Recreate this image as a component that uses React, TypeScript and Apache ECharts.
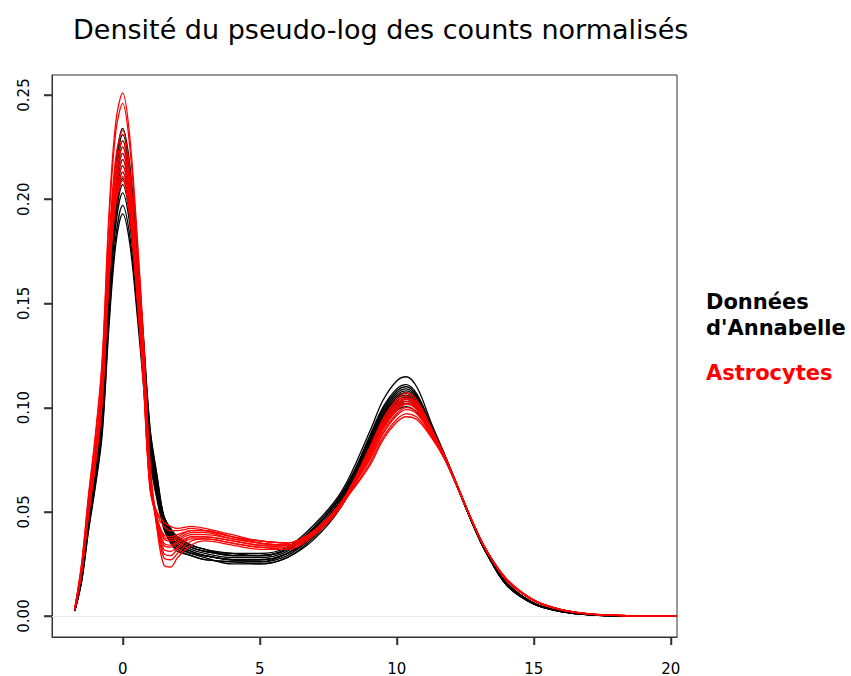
import React, { useEffect, useRef } from "react";
import * as echarts from "echarts";

// x grid (pseudo-log of normalised counts) shared by every density curve
const xGrid = [-1.75, -1.5, -1.25, -1, -0.75, -0.5, -0.25, 0, 0.25, 0.5, 0.75, 1, 1.25, 1.5, 1.75, 2, 2.5, 3, 4, 5, 6, 7, 8, 9, 9.5, 10, 10.35, 10.75, 11.25, 11.75, 12.25, 12.75, 13.25, 14, 15, 16, 17, 18, 20.2];

// Données d'Annabelle (black curves)
const black1 = [0.0028, 0.0199, 0.0491, 0.0749, 0.1053, 0.1685, 0.2165, 0.2340, 0.2176, 0.1802, 0.1357, 0.0901, 0.0679, 0.048, 0.041, 0.037, 0.033, 0.031, 0.029, 0.029, 0.032, 0.043, 0.059, 0.0848, 0.0985, 0.1070, 0.1090, 0.1046, 0.0910, 0.0769, 0.0611, 0.0452, 0.0310, 0.0155, 0.0060, 0.0022, 0.0007, 0.0002, 0];
const black2 = [0.0028, 0.0196, 0.0485, 0.0739, 0.1040, 0.1663, 0.2137, 0.2310, 0.2148, 0.1779, 0.1340, 0.0889, 0.0670, 0.047, 0.040, 0.036, 0.033, 0.031, 0.030, 0.030, 0.033, 0.044, 0.060, 0.0880, 0.1035, 0.1128, 0.1148, 0.1095, 0.0930, 0.0775, 0.0615, 0.0455, 0.0312, 0.0160, 0.0062, 0.0023, 0.0007, 0.0002, 0];
const black3 = [0.0027, 0.0194, 0.0479, 0.0730, 0.1026, 0.1642, 0.2109, 0.2280, 0.2120, 0.1756, 0.1322, 0.0878, 0.0661, 0.047, 0.040, 0.036, 0.032, 0.030, 0.028, 0.028, 0.031, 0.042, 0.058, 0.0833, 0.0967, 0.1050, 0.1070, 0.1030, 0.0902, 0.0765, 0.0610, 0.0450, 0.0310, 0.0150, 0.0058, 0.0021, 0.0006, 0.0002, 0];
const black4 = [0.0027, 0.0191, 0.0473, 0.0720, 0.1013, 0.1620, 0.2081, 0.2250, 0.2093, 0.1733, 0.1305, 0.0866, 0.0653, 0.044, 0.038, 0.035, 0.031, 0.029, 0.027, 0.026, 0.030, 0.040, 0.056, 0.0855, 0.0994, 0.1080, 0.1100, 0.1054, 0.0914, 0.0771, 0.0612, 0.0452, 0.0311, 0.0155, 0.0060, 0.0022, 0.0007, 0.0002, 0];
const black5 = [0.0027, 0.0189, 0.0466, 0.0710, 0.0999, 0.1598, 0.2054, 0.2220, 0.2065, 0.1709, 0.1288, 0.0855, 0.0644, 0.045, 0.039, 0.034, 0.030, 0.029, 0.027, 0.027, 0.030, 0.039, 0.055, 0.0818, 0.0949, 0.1030, 0.1050, 0.1013, 0.0894, 0.0762, 0.0609, 0.0449, 0.0309, 0.0160, 0.0062, 0.0023, 0.0007, 0.0002, 0];
const black6 = [0.0026, 0.0186, 0.0460, 0.0701, 0.0986, 0.1577, 0.2026, 0.2190, 0.2037, 0.1686, 0.1270, 0.0843, 0.0635, 0.048, 0.042, 0.038, 0.034, 0.032, 0.029, 0.029, 0.032, 0.041, 0.057, 0.0860, 0.1002, 0.1090, 0.1110, 0.1062, 0.0918, 0.0773, 0.0613, 0.0453, 0.0311, 0.0155, 0.0060, 0.0022, 0.0007, 0.0002, 0];
const black7 = [0.0026, 0.0184, 0.0454, 0.0691, 0.0972, 0.1555, 0.1998, 0.2160, 0.2009, 0.1663, 0.1253, 0.0832, 0.0626, 0.042, 0.036, 0.032, 0.029, 0.027, 0.026, 0.025, 0.028, 0.037, 0.053, 0.0810, 0.0940, 0.1020, 0.1040, 0.1005, 0.0890, 0.0760, 0.0608, 0.0449, 0.0309, 0.0150, 0.0058, 0.0021, 0.0006, 0.0002, 0];
const black8 = [0.0026, 0.0181, 0.0447, 0.0682, 0.0959, 0.1534, 0.1970, 0.2130, 0.1981, 0.1640, 0.1235, 0.0820, 0.0618, 0.047, 0.041, 0.037, 0.033, 0.031, 0.029, 0.029, 0.032, 0.042, 0.058, 0.0840, 0.0976, 0.1060, 0.1080, 0.1038, 0.0906, 0.0767, 0.0611, 0.0451, 0.0310, 0.0155, 0.0060, 0.0022, 0.0007, 0.0002, 0];
const black9 = [0.0025, 0.0179, 0.0441, 0.0672, 0.0945, 0.1512, 0.1943, 0.2100, 0.1953, 0.1617, 0.1218, 0.0809, 0.0609, 0.048, 0.041, 0.037, 0.034, 0.032, 0.030, 0.029, 0.032, 0.042, 0.058, 0.0825, 0.0958, 0.1040, 0.1060, 0.1022, 0.0898, 0.0764, 0.0610, 0.0450, 0.0309, 0.0160, 0.0062, 0.0023, 0.0007, 0.0002, 0];
const black10 = [0.0025, 0.0176, 0.0435, 0.0662, 0.0932, 0.1490, 0.1915, 0.2070, 0.1925, 0.1594, 0.1201, 0.0797, 0.0600, 0.043, 0.037, 0.033, 0.030, 0.028, 0.025, 0.025, 0.028, 0.038, 0.054, 0.0802, 0.0931, 0.1010, 0.1030, 0.0997, 0.0886, 0.0759, 0.0608, 0.0448, 0.0308, 0.0150, 0.0058, 0.0021, 0.0006, 0.0002, 0];
const black11 = [0.0024, 0.0173, 0.0426, 0.0650, 0.0914, 0.1462, 0.1878, 0.2030, 0.1888, 0.1563, 0.1177, 0.0782, 0.0589, 0.044, 0.037, 0.033, 0.030, 0.029, 0.027, 0.027, 0.030, 0.039, 0.055, 0.0783, 0.0909, 0.0986, 0.1005, 0.0975, 0.0876, 0.0755, 0.0606, 0.0447, 0.0308, 0.0155, 0.0060, 0.0022, 0.0007, 0.0002, 0];
const black12 = [0.0024, 0.0167, 0.0414, 0.0630, 0.0887, 0.1418, 0.1822, 0.1970, 0.1832, 0.1517, 0.1143, 0.0758, 0.0571, 0.045, 0.038, 0.034, 0.031, 0.029, 0.027, 0.027, 0.030, 0.040, 0.056, 0.0795, 0.0922, 0.1000, 0.1020, 0.0988, 0.0882, 0.0757, 0.0607, 0.0448, 0.0308, 0.0160, 0.0062, 0.0023, 0.0007, 0.0002, 0];
const black13 = [0.0023, 0.0164, 0.0405, 0.0618, 0.0869, 0.1390, 0.1785, 0.1930, 0.1795, 0.1486, 0.1119, 0.0743, 0.0560, 0.042, 0.035, 0.031, 0.029, 0.027, 0.026, 0.026, 0.029, 0.039, 0.055, 0.0833, 0.0967, 0.1050, 0.1070, 0.1030, 0.0902, 0.0765, 0.0610, 0.0450, 0.0310, 0.0150, 0.0058, 0.0021, 0.0006, 0.0002, 0];

// Astrocytes (red curves)
const red1 = [0.0035, 0.0251, 0.0577, 0.0866, 0.1230, 0.1933, 0.2372, 0.2510, 0.2309, 0.1883, 0.1355, 0.0728, 0.045, 0.030, 0.029, 0.032, 0.037, 0.037, 0.035, 0.033, 0.032, 0.039, 0.053, 0.0783, 0.0918, 0.1011, 0.1040, 0.1008, 0.0893, 0.0765, 0.0613, 0.0456, 0.0321, 0.0175, 0.0075, 0.0030, 0.0010, 0.0003, 0];
const red2 = [0.0034, 0.0246, 0.0566, 0.0849, 0.1205, 0.1894, 0.2325, 0.2460, 0.2263, 0.1845, 0.1328, 0.0713, 0.042, 0.0245, 0.0235, 0.028, 0.034, 0.036, 0.034, 0.032, 0.032, 0.039, 0.053, 0.0763, 0.0896, 0.0986, 0.1015, 0.0988, 0.0883, 0.0761, 0.0611, 0.0455, 0.0320, 0.0178, 0.0076, 0.0031, 0.0010, 0.0003, 0];
const red3 = [0.0033, 0.0233, 0.0536, 0.0804, 0.1142, 0.1794, 0.2202, 0.2330, 0.2144, 0.1748, 0.1258, 0.0676, 0.046, 0.034, 0.033, 0.035, 0.038, 0.038, 0.036, 0.034, 0.034, 0.041, 0.055, 0.0805, 0.0945, 0.1040, 0.1070, 0.1032, 0.0906, 0.0770, 0.0615, 0.0458, 0.0322, 0.0172, 0.0074, 0.0029, 0.0010, 0.0003, 0];
const red4 = [0.0032, 0.0228, 0.0524, 0.0787, 0.1117, 0.1756, 0.2155, 0.2280, 0.2098, 0.1710, 0.1231, 0.0661, 0.043, 0.028, 0.027, 0.030, 0.036, 0.037, 0.035, 0.033, 0.033, 0.040, 0.054, 0.0718, 0.0845, 0.0930, 0.0956, 0.0940, 0.0859, 0.0752, 0.0609, 0.0456, 0.0322, 0.0180, 0.0077, 0.0031, 0.0011, 0.0003, 0];
const red5 = [0.0032, 0.0225, 0.0518, 0.0776, 0.1103, 0.1733, 0.2126, 0.2250, 0.2070, 0.1688, 0.1215, 0.0653, 0.047, 0.037, 0.036, 0.037, 0.040, 0.040, 0.037, 0.035, 0.034, 0.041, 0.055, 0.0775, 0.0909, 0.1001, 0.1030, 0.1000, 0.0889, 0.0764, 0.0612, 0.0456, 0.0321, 0.0175, 0.0075, 0.0030, 0.0010, 0.0003, 0];
const red6 = [0.0031, 0.0222, 0.0511, 0.0766, 0.1088, 0.1709, 0.2098, 0.2220, 0.2042, 0.1665, 0.1199, 0.0644, 0.046, 0.032, 0.031, 0.033, 0.038, 0.038, 0.036, 0.034, 0.033, 0.040, 0.054, 0.0795, 0.0932, 0.1026, 0.1055, 0.1020, 0.0899, 0.0768, 0.0614, 0.0457, 0.0322, 0.0172, 0.0074, 0.0029, 0.0010, 0.0003, 0];
const red7 = [0.0031, 0.0219, 0.0504, 0.0756, 0.1073, 0.1686, 0.2070, 0.2190, 0.2015, 0.1643, 0.1183, 0.0635, 0.049, 0.043, 0.041, 0.041, 0.042, 0.041, 0.038, 0.036, 0.035, 0.041, 0.055, 0.0752, 0.0883, 0.0972, 0.1000, 0.0976, 0.0877, 0.0759, 0.0611, 0.0455, 0.0320, 0.0175, 0.0075, 0.0030, 0.0010, 0.0003, 0];
const red8 = [0.0030, 0.0216, 0.0497, 0.0745, 0.1058, 0.1663, 0.2041, 0.2160, 0.1987, 0.1620, 0.1166, 0.0626, 0.046, 0.035, 0.034, 0.036, 0.039, 0.039, 0.037, 0.035, 0.034, 0.040, 0.054, 0.0767, 0.0900, 0.0991, 0.1020, 0.0992, 0.0885, 0.0762, 0.0612, 0.0456, 0.0320, 0.0178, 0.0076, 0.0031, 0.0010, 0.0003, 0];
const red9 = [0.0030, 0.0213, 0.0490, 0.0735, 0.1044, 0.1640, 0.2013, 0.2130, 0.1960, 0.1598, 0.1150, 0.0618, 0.047, 0.038, 0.037, 0.038, 0.041, 0.041, 0.038, 0.036, 0.035, 0.041, 0.055, 0.0744, 0.0874, 0.0962, 0.0990, 0.0968, 0.0873, 0.0758, 0.0610, 0.0455, 0.0320, 0.0175, 0.0075, 0.0030, 0.0010, 0.0003, 0];
const red10 = [0.0030, 0.0211, 0.0485, 0.0728, 0.1034, 0.1625, 0.1994, 0.2110, 0.1941, 0.1583, 0.1139, 0.0612, 0.050, 0.045, 0.043, 0.042, 0.043, 0.042, 0.039, 0.036, 0.035, 0.041, 0.055, 0.0787, 0.0923, 0.1016, 0.1045, 0.1012, 0.0895, 0.0766, 0.0613, 0.0457, 0.0321, 0.0172, 0.0074, 0.0029, 0.0010, 0.0003, 0];
const red11 = [0.0029, 0.0209, 0.0481, 0.0721, 0.1024, 0.1609, 0.1975, 0.2090, 0.1923, 0.1568, 0.1129, 0.0606, 0.047, 0.039, 0.038, 0.039, 0.041, 0.041, 0.038, 0.035, 0.034, 0.040, 0.054, 0.0729, 0.0857, 0.0943, 0.0970, 0.0952, 0.0865, 0.0754, 0.0609, 0.0455, 0.0320, 0.0178, 0.0076, 0.0031, 0.0010, 0.0003, 0];

const blackCurves = [black1, black2, black3, black4, black5, black6, black7, black8, black9, black10, black11, black12, black13];
const redCurves = [red1, red2, red3, red4, red5, red6, red7, red8, red9, red10, red11];

const xTicks = [0, 5, 10, 15, 20];
const yTicks = [0, 0.05, 0.1, 0.15, 0.2, 0.25];
const xMin = -2.58;
const xMax = 20.23;
const yMin = -0.01008;
const yMax = 0.2596;

const titleText = "Densité du pseudo-log des counts normalisés";
const legendBlack = ["Données", "d'Annabelle"];
const legendRed = "Astrocytes";

const FONT = '"DejaVu Sans", Verdana, sans-serif';
const AXIS_COLOR = "#333333";
const TICK_LEN = 8;

export default function App() {
  const ref = useRef<HTMLDivElement>(null);

  useEffect(() => {
    if (!ref.current) return;
    const chart = echarts.init(ref.current, null, { renderer: "svg" });

    const mkSeries = (ys: number[], color: string, idx: number, withZero: boolean) => {
      const s: any = {
        type: "line",
        name: color + idx,
        data: xGrid.map((x, i) => [x, ys[i]]),
        symbol: "none",
        smooth: 0.35,
        clip: true,
        silent: true,
        lineStyle: { color, width: 1.3 },
        z: color === "#ff0000" ? 3 : 2,
      };
      if (withZero) {
        s.markLine = {
          silent: true,
          symbol: ["none", "none"],
          label: { show: false },
          lineStyle: { color: "#ebebeb", width: 1, type: "solid" },
          data: [{ yAxis: 0 }],
          z: 1,
        };
      }
      return s;
    };

    // tick marks drawn by custom series through the axes' own coordinates
    const xTickSeries = {
      type: "custom",
      silent: true,
      clip: false,
      z: 20,
      data: xTicks.map((v) => [v, yMin]),
      renderItem: (_p: any, api: any) => {
        const pt = api.coord([api.value(0), api.value(1)]);
        const x = Math.round(pt[0]) + 0.5;
        const y = Math.round(pt[1]);
        return {
          type: "line",
          shape: { x1: x, y1: y, x2: x, y2: y + TICK_LEN },
          style: { stroke: AXIS_COLOR, lineWidth: 1.5 },
        };
      },
    };
    const yTickSeries = {
      type: "custom",
      silent: true,
      clip: false,
      z: 20,
      data: yTicks.map((v) => [xMin, v]),
      renderItem: (_p: any, api: any) => {
        const pt = api.coord([api.value(0), api.value(1)]);
        const x = Math.round(pt[0]);
        const y = Math.round(pt[1]) + 0.5;
        return {
          type: "line",
          shape: { x1: x - TICK_LEN, y1: y, x2: x, y2: y },
          style: { stroke: AXIS_COLOR, lineWidth: 1.5 },
        };
      },
    };

    const series: any[] = [
      ...blackCurves.map((c, i) => mkSeries(c, "#000000", i, i === 0)),
      ...redCurves.map((c, i) => mkSeries(c, "#ff0000", i, false)),
      xTickSeries,
      yTickSeries,
    ];

    const mkText = (text: string, x: number, y: number, font: string, fill: string) => ({
      type: "text",
      x,
      y,
      silent: true,
      style: { text, font, fill, align: "left", verticalAlign: "middle" },
    });

    chart.setOption({
      animation: false,
      backgroundColor: "#ffffff",
      grid: {
        left: 52,
        right: 174,
        top: 75,
        bottom: 39,
        show: true,
        borderColor: AXIS_COLOR,
        borderWidth: 1,
        backgroundColor: "transparent",
      },
      xAxis: {
        type: "value",
        min: xMin,
        max: xMax,
        position: "bottom",
        axisLine: { show: true, onZero: false, lineStyle: { color: AXIS_COLOR, width: 1 } },
        splitLine: { show: false },
        axisTick: {
          show: true,
          inside: false,
          length: TICK_LEN,
          customValues: xTicks,
          lineStyle: { color: AXIS_COLOR, width: 1.5 },
        },
        axisLabel: {
          customValues: xTicks,
          fontSize: 15,
          fontFamily: FONT,
          color: "#000000",
          margin: 24,
          formatter: (v: number) => String(v),
        },
      },
      yAxis: {
        type: "value",
        min: yMin,
        max: yMax,
        position: "left",
        axisLine: { show: true, onZero: false, lineStyle: { color: AXIS_COLOR, width: 1 } },
        splitLine: { show: false },
        axisTick: {
          show: true,
          inside: false,
          length: TICK_LEN,
          customValues: yTicks,
          lineStyle: { color: AXIS_COLOR, width: 1.5 },
        },
        axisLabel: {
          customValues: yTicks,
          rotate: 90,
          fontSize: 15,
          fontFamily: FONT,
          color: "#000000",
          margin: 21,
          formatter: (v: number) => v.toFixed(2),
        },
      },
      graphic: {
        elements: [
          mkText(titleText, 73, 29, `27px ${FONT}`, "#000000"),
          mkText(legendBlack[0], 706, 302, `bold 21px ${FONT}`, "#000000"),
          mkText(legendBlack[1], 706, 328, `bold 21px ${FONT}`, "#000000"),
          mkText(legendRed, 706, 373, `bold 21px ${FONT}`, "#ff0000"),
        ],
      },
      series,
    });

    return () => {
      chart.dispose();
    };
  }, []);

  return (
    <div
      ref={ref}
      style={{ position: "fixed", left: 0, top: 0, width: 851, height: 676, background: "#fff" }}
    />
  );
}
